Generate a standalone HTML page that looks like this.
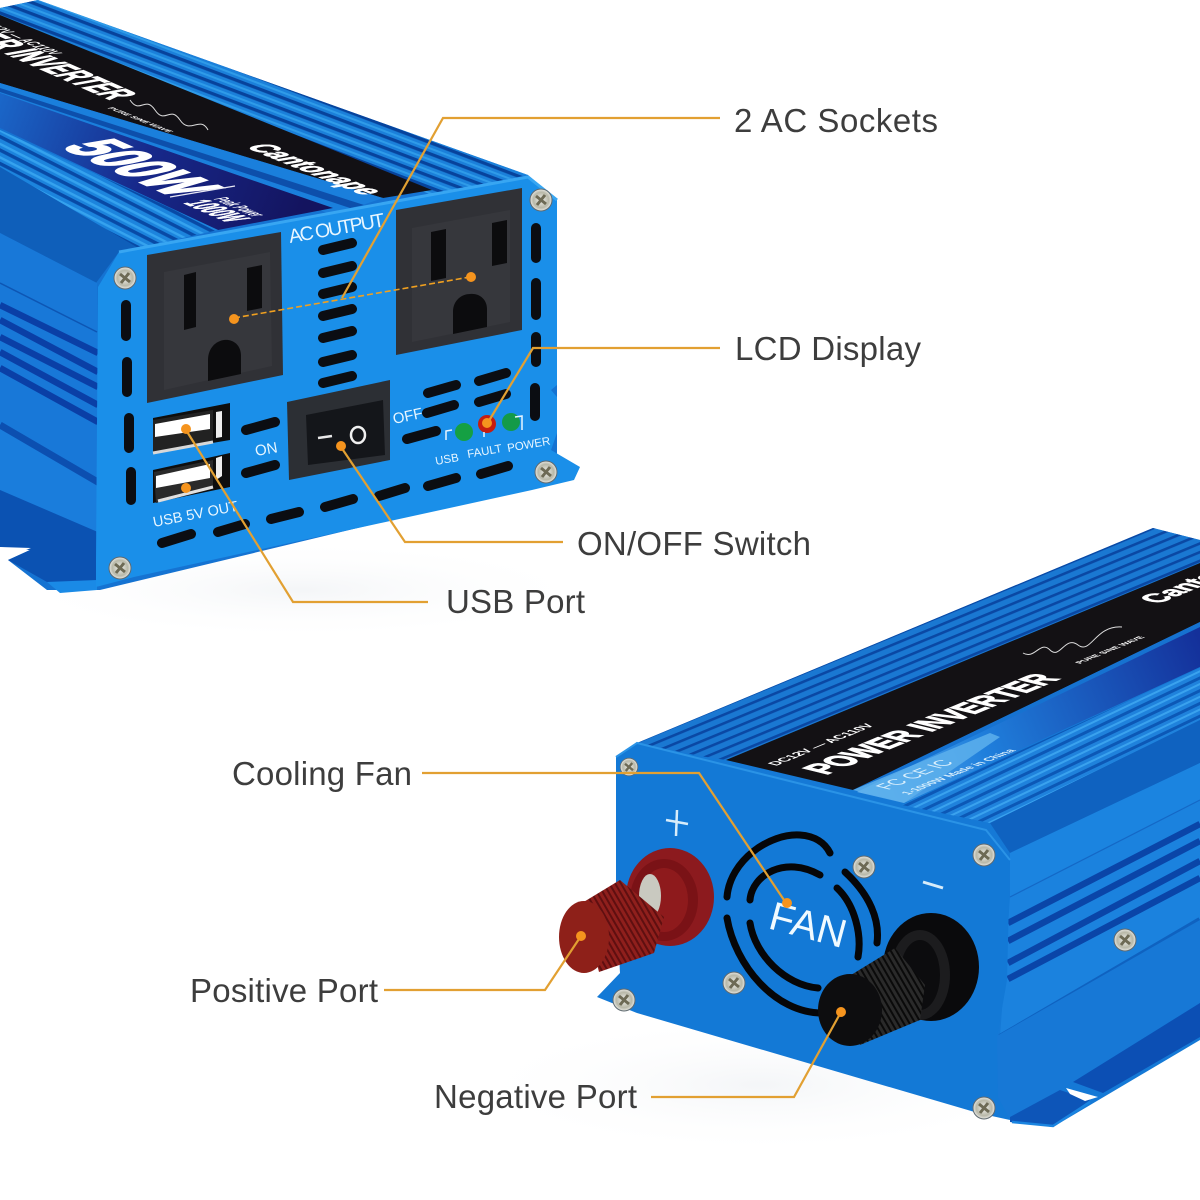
<!DOCTYPE html>
<html><head><meta charset="utf-8"><style>
html,body{margin:0;padding:0;background:#fff}
svg{display:block}
text{font-family:"Liberation Sans",sans-serif}
.lb{font-size:33px;fill:#3d3d3d}
.w{fill:#e8f6ff}
</style></head><body>
<svg xmlns="http://www.w3.org/2000/svg" width="1200" height="1200" viewBox="0 0 1200 1200">
<defs>
<pattern id="f1" patternUnits="userSpaceOnUse" width="20" height="10.5" patternTransform="rotate(20.8)"><rect width="20" height="10.5" fill="#1b80da"/><rect width="20" height="3.2" fill="#07439c"/><rect y="6" width="20" height="2" fill="#2f9be8"/></pattern>
<pattern id="f2" patternUnits="userSpaceOnUse" width="20" height="12" patternTransform="rotate(27)"><rect width="20" height="12" fill="#1c84dd"/><rect width="20" height="3.4" fill="#084aa6"/><rect y="7" width="20" height="2.4" fill="#35a2ee"/></pattern>
<pattern id="f4" patternUnits="userSpaceOnUse" width="20" height="8" patternTransform="rotate(-22.5)"><rect width="20" height="8" fill="#1a78d2"/><rect width="20" height="2.6" fill="#0a48a4"/></pattern>
<pattern id="f5" patternUnits="userSpaceOnUse" width="20" height="11.5" patternTransform="rotate(-25.5)"><rect width="20" height="11.5" fill="#1f82dc"/><rect width="20" height="3" fill="#0c58b6"/><rect y="6" width="20" height="2" fill="#3aa2ee"/></pattern>
<pattern id="k1" patternUnits="userSpaceOnUse" width="5" height="20" patternTransform="rotate(-30)"><rect width="5" height="20" fill="#8f1f1c"/><rect width="2" height="20" fill="#5f0f10"/></pattern>
<pattern id="k2" patternUnits="userSpaceOnUse" width="5" height="20" patternTransform="rotate(-30)"><rect width="5" height="20" fill="#2a2a2a"/><rect width="2" height="20" fill="#0a0a0a"/></pattern>
<linearGradient id="nv" gradientUnits="userSpaceOnUse" x1="0" y1="100" x2="300" y2="215"><stop offset="0" stop-color="#1a66c8"/><stop offset=".5" stop-color="#17288a"/><stop offset="1" stop-color="#14145f"/></linearGradient>
<linearGradient id="nv2" gradientUnits="userSpaceOnUse" x1="860" y1="790" x2="1200" y2="640"><stop offset="0" stop-color="#5fb0ee"/><stop offset=".35" stop-color="#1f7fdc"/><stop offset="1" stop-color="#14309a"/></linearGradient>
<radialGradient id="sc"><stop offset="0" stop-color="#f2f2ee"/><stop offset=".7" stop-color="#b8b8a8"/><stop offset="1" stop-color="#e8e8e4"/></radialGradient>
<g id="s"><circle r="11" fill="url(#sc)" stroke="#5f6a70" stroke-width="1"/><path d="M-5-4L5 4M4-5L-4 5" stroke="#6d6a55" stroke-width="3"/></g>
<radialGradient id="shadow"><stop offset="0" stop-color="#dfe4ea" stop-opacity=".35"/><stop offset="1" stop-color="#fff" stop-opacity="0"/></radialGradient>
</defs>
<rect width="1200" height="1200" fill="#fff"/>
<ellipse cx="760" cy="1085" rx="300" ry="70" fill="url(#shadow)"/>
<ellipse cx="300" cy="590" rx="300" ry="50" fill="url(#shadow)"/>

<!-- TOP LEFT UNIT -->
<polygon points="38,0 528,175 557,200 557,480 100,590 47,590 8,560 30,550 0,547 0,8" fill="#1573d2"/>
<polygon points="38,0 528,175 432,195 0,20 0,8" fill="url(#f1)"/>
<polygon points="0,15 432,190 383,198 0,83" fill="#121014"/>
<polygon points="0,83 383,198 333,215 0,93" fill="#1a7fdc"/>
<polygon points="0,88 364,205 350,208 0,92" fill="#0d4fab"/>
<polygon points="0,93 333,208 218,230 0,128" fill="url(#nv)"/>
<polygon points="0,130 218,230 138,248 0,167" fill="url(#f2)"/>
<polygon points="0,167 138,248 119,252 96,283 0,233" fill="#0f5fba"/>
<polygon points="0,233 97,283 98,440 0,423" fill="#1878d8"/>
<path d="M0,283L97,332" stroke="#0d56b4" stroke-width="1.5"/>
<g stroke="#0a3fa6" stroke-width="6.5">
<path d="M0,305L98,353M0,320L98,372M0,337L98,387M0,352L98,405M0,368L98,422"/>
</g>
<polygon points="0,423 110,487 110,437 98,430" fill="#1878d8"/>
<polygon points="0,423 110,487 100,533 0,490" fill="#1a7ddc"/>
<path d="M0,425L108,488" stroke="#0c4fb0" stroke-width="7"/>
<polygon points="0,490 100,533 103,575 97,587 47,582 8,560 30,550 0,547" fill="#0b52b2"/>
<polygon points="0,547 31,548 10,556 0,556" fill="#fff"/>
<polygon points="47,582 97,580 97,590 60,593" fill="#1a8ae6"/>
<polygon points="98,287 119,252 528,177 557,200 557,385 551,390 557,397 557,433 551,450 580,467 574,480 532,490 134,577 96,587 96,560" fill="#1a8fe9"/>
<path d="M119,252L528,177L557,200" fill="none" stroke="#38a6f2" stroke-width="3"/>

<polygon points="147,255 281,232 283,375 147,403" fill="#303136"/>
<polygon points="164,272 270,252 272,366 164,390" fill="#36373c"/>
<polygon points="396,210 522,188 522,330 396,355" fill="#303136"/>
<polygon points="412,228 510,210 510,322 412,342" fill="#36373c"/>
<g fill="#0c0c0e">
<polygon points="184,275 196,272 196,327 184,330"/>
<polygon points="247,268 262,265 262,308 247,311"/>
<path d="M208,381V360C208,348 216,341 224,340C232,339 241,344 241,356V374Z"/>
<polygon points="431,232 446,229 446,278 431,281"/>
<polygon points="492,223 507,220 507,263 492,266"/>
<path d="M453,334V312C453,300 462,294 470,294C479,293 487,299 487,309V327Z"/>
</g>
<g stroke="#0b0d12" stroke-width="10" stroke-linecap="round" fill="none">
<path d="M323,250L352,243M323,273L352,266M323,294L352,287M323,316L352,309M323,338L352,331M323,362L352,355M323,383L352,376"/>
<path d="M536,228V258M536,283V315M536,337V362M535,388V416"/>
<path d="M126,305V336M127,362V392M129,418V448M131,472V500"/>
<path d="M162,543L191,534M218,532L245,524M271,519L299,512M325,507L353,499M379,496L405,488M428,486L456,478M481,474L508,466"/>
<path d="M246,430L275,422M246,473L275,465"/>
<path d="M428,393L456,385M479,381L506,373M427,413L454,405M479,402L506,394M407,439L436,431"/>
</g>

<polygon points="153,418 230,403 230,440 153,453" fill="#0e0e0e"/>
<polygon points="153,470 230,453 230,487 153,503" fill="#0e0e0e"/>
<polygon points="153,420 213,410 213,442 153,453" fill="#222"/>
<polygon points="155,424 210,414 210,429 155,437" fill="#fff"/>
<path d="M153,453L213,442" stroke="#d8d8d8" stroke-width="3"/>
<polygon points="154,472 213,460 213,488 156,503" fill="#2a2a2a"/>
<polygon points="156,476 210,464 210,478 156,488" fill="#fff"/>
<path d="M158,501L213,487" stroke="#e0e0e0" stroke-width="3"/>
<polygon points="216,412 222,411 222,437 216,438" fill="#eee"/>
<polygon points="216,458 222,456 222,476 216,480" fill="#eee"/>

<polygon points="287,402 390,380 390,460 289,480" fill="#2c2f34"/>
<polygon points="306,415 383,400 385,455 308,465" fill="#14161a"/>
<path d="M318,438L332,436" stroke="#e8e8e8" stroke-width="2.5"/>
<ellipse cx="358" cy="435" rx="7" ry="8" fill="none" stroke="#f0f0f0" stroke-width="2.5"/>

<circle cx="464" cy="432" r="9" fill="#15a043"/>
<circle cx="487" cy="424" r="9" fill="#c61d10"/>
<circle cx="511" cy="422" r="9" fill="#149a48"/>
<path d="M446,440V431L452,430M484,432V437M515,417L522,416V430" stroke="#e8f6ff" stroke-width="1.5" fill="none"/>

<g class="w">
<text transform="translate(290,243) rotate(-10)" font-size="19.5" textLength="97">AC OUTPUT</text>
<text transform="translate(256,456) rotate(-10)" font-size="15">ON</text>
<text transform="translate(394,424) rotate(-12)" font-size="15">OFF</text>
<text transform="translate(154,527) rotate(-11)" font-size="14.5">USB 5V OUT</text>
<text transform="translate(436,465) rotate(-10)" font-size="11.5">USB</text>
<text transform="translate(468,458) rotate(-10)" font-size="11.5">FAULT</text>
<text transform="translate(508,452) rotate(-10)" font-size="11.5">POWER</text>
</g>

<g fill="#fff" font-weight="bold">
<text transform="matrix(.7,.31,-1.18,.22,60,147)" font-size="62" stroke="#fff" stroke-width="2.5">500W</text>
<text transform="matrix(.65,.29,-1.7,.3,213,199)" font-size="11">Peak Power</text>
<text transform="matrix(.7,.31,-1.7,.3,183,203)" font-size="20" stroke="#fff" stroke-width=".6">1000W</text>
<text transform="matrix(.88,.36,-1.3,.22,245,147)" font-size="26" stroke="#fff" stroke-width="1">Cantonape</text>
<text transform="matrix(.7,.31,-1.4,.25,110,100)" font-size="30" text-anchor="end" stroke="#fff" stroke-width="1.2">POWER INVERTER</text>
<text transform="matrix(.9,.36,-1,.17,107,108)" font-size="8">PURE SINE WAVE</text>
<text transform="matrix(.7,.31,-1.2,.21,52,55)" font-size="13" text-anchor="end">DC12V — AC110V</text>
</g>
<path d="M130,100C140,115 145,95 155,110S170,105 180,120S200,115 208,130" fill="none" stroke="#ddd" stroke-width="1"/>
<path d="M170,197L235,186" stroke="#e8e8f4" stroke-width="1.2"/>

<use href="#s" x="125" y="278"/><use href="#s" x="541" y="200"/><use href="#s" x="546" y="472"/><use href="#s" x="120" y="568"/>

<!-- BOTTOM RIGHT UNIT -->
<polygon points="637,743 1153,528 1200,540 1200,1040 1053,1127 1010,1120 980,1000 616,800" fill="#1579d6"/>
<polygon points="637,743 1153,528 1200,540 1200,563 726,760 700,756" fill="url(#f4)"/>
<polygon points="726,760 1200,563 1200,622 853,790" fill="#131114"/>
<polygon points="853,790 1200,622 1200,633 870,795" fill="#1672d0"/>
<polygon points="857,792 1200,627 1200,667 904,803" fill="url(#nv2)"/>
<polygon points="902,805 1200,668 1200,720 990,823" fill="url(#f5)"/>
<polygon points="853,790 990,733 1000,737 904,803" fill="#5db0ec" opacity=".85"/>
<polygon points="990,823 1200,720 1200,763 1010,853" fill="#0f62c0"/>
<polygon points="1010,853 1200,763 1200,800 1010,897" fill="#1b84e0"/>
<polygon points="1010,897 1200,800 1200,920 1000,1037" fill="#1b82de"/>
<path d="M1010,897L1200,800" stroke="#1468c6" stroke-width="1.2"/>
<g stroke="#0a45a8" stroke-width="6.5">
<path d="M1008,923L1200,824M1008,941L1200,841M1008,963L1200,861M1008,979L1200,878"/>
</g>
<path d="M1000,1037L1200,920" stroke="#0f62c0" stroke-width="6"/>
<polygon points="995,1037 1200,920 1200,1003 1060,1090 1010,1120 995,1100" fill="#1778d6"/>
<polygon points="1073,1082 1200,1003 1200,1037 1103,1093" fill="#0c4fb4"/>
<polygon points="1010,1117 1060,1090 1090,1100 1053,1127 1010,1122" fill="#0d55b8"/>
<polygon points="1066,1088 1098,1097 1085,1101 1070,1094" fill="#fff"/>
<path d="M1012,1122L1053,1126L1090,1102" stroke="#1a84e0" stroke-width="2.5" fill="none"/>
<polygon points="616,757 637,743 986,830 1010,860 1007,980 997,1037 998,1097 1010,1120 978,1113 637,1013 597,997 620,973 616,900" fill="#1379d6"/>
<path d="M616,757L637,743L986,830L1010,860" fill="none" stroke="#2a93e6" stroke-width="2"/>

<g fill="none" stroke="#060608" stroke-width="7" stroke-linecap="round">
<path d="M727,897C730,860 770,833 800,835C815,836 825,843 830,853"/>
<path d="M845,872C870,895 880,920 877,943"/>
<path d="M727,918C735,965 775,1013 822,1013"/>
<path d="M750,900C752,875 785,855 820,875"/>
<path d="M837,888C855,905 862,935 858,957"/>
<path d="M750,923C755,955 785,985 818,988"/>
</g>
<text transform="translate(767,928) rotate(15)" font-size="40" fill="#f0faff">FAN</text>
<path d="M666,820L688,824M677,810L676,836" stroke="#d7ecfa" stroke-width="2.5" fill="none"/>
<path d="M923,882L943,888" stroke="#d7ecfa" stroke-width="3"/>

<ellipse cx="670" cy="897" rx="44" ry="49" fill="#8c1a1e"/>
<ellipse cx="664" cy="900" rx="34" ry="41" fill="#7a1216"/>
<ellipse cx="664" cy="900" rx="24" ry="32" fill="#8e1a1c"/>
<ellipse cx="650" cy="896" rx="11" ry="22" fill="#c9c9c0"/>
<polygon points="582,903 620,880 664,917 654,953 599,972" fill="url(#k1)"/>
<ellipse cx="584" cy="937" rx="25" ry="36" fill="#8e2019"/>

<ellipse cx="931" cy="967" rx="48" ry="54" fill="#0a0a0c"/>
<ellipse cx="920" cy="975" rx="30" ry="45" fill="#1c1c1e"/>
<ellipse cx="920" cy="975" rx="20" ry="35" fill="#0c0c0e"/>
<polygon points="851,975 895,948 925,985 920,1020 860,1045" fill="url(#k2)"/>
<ellipse cx="850" cy="1010" rx="32" ry="36" fill="#0d0d0f"/>

<use href="#s" transform="translate(629,767) scale(.8)"/>
<use href="#s" x="984" y="855"/><use href="#s" x="864" y="867"/><use href="#s" x="734" y="983"/><use href="#s" x="624" y="1000"/><use href="#s" x="984" y="1108"/><use href="#s" x="1125" y="940"/>

<g fill="#fff" font-weight="bold">
<text transform="matrix(.78,-.32,1.1,.27,826,775)" font-size="33" stroke="#fff" stroke-width="1.4">POWER INVERTER</text>
<text transform="matrix(.78,-.32,.88,.22,776,766)" font-size="15">DC12V — AC110V</text>
<text transform="matrix(.78,-.32,1,.25,1158,604)" font-size="30" stroke="#fff" stroke-width="1">Cantonape</text>
<text transform="matrix(.85,-.35,.9,.22,1080,664)" font-size="9">PURE SINE WAVE</text>
</g>
<path d="M1023,653C1035,660 1040,640 1050,650S1065,635 1078,645S1095,625 1122,627" fill="none" stroke="#ddd" stroke-width="1"/>
<g fill="#d7eefc">
<text transform="matrix(.78,-.32,1,.25,888,790)" font-size="20">FC CE IC</text>
<text transform="matrix(.78,-.32,.9,.22,908,795)" font-size="12.5" font-weight="bold">1-1000W Made in China</text>
</g>

<!-- CALLOUTS -->
<g fill="none" stroke="#e2a032" stroke-width="2.2">
<path d="M720,118H443L342,298"/>
<path d="M234,318L470,277" stroke="#f0a020" stroke-dasharray="6 3" stroke-width="1.6"/>
<path d="M720,348H533L487,424"/>
<path d="M563,542H405L341,447"/>
<path d="M428,602H293L186,430"/>
<path d="M422,773H699L786,903"/>
<path d="M384,990H545L581,936"/>
<path d="M651,1097H794L841,1012"/>
</g>
<g fill="#f5941e">
<circle cx="234" cy="319" r="5"/><circle cx="471" cy="277" r="5"/><circle cx="487" cy="423" r="5"/><circle cx="341" cy="446" r="5"/><circle cx="186" cy="429" r="5"/><circle cx="186" cy="488" r="5"/><circle cx="787" cy="903" r="5"/><circle cx="581" cy="936" r="5"/><circle cx="841" cy="1012" r="5"/>
</g>

<text class="lb" x="734" y="132" textLength="204">2 AC Sockets</text>
<text class="lb" x="735" y="360" textLength="186">LCD Display</text>
<text class="lb" x="577" y="555" textLength="234">ON/OFF Switch</text>
<text class="lb" x="446" y="613" textLength="139">USB Port</text>
<text class="lb" x="232" y="785" textLength="180">Cooling Fan</text>
<text class="lb" x="190" y="1002" textLength="188">Positive Port</text>
<text class="lb" x="434" y="1108" textLength="203">Negative Port</text>
</svg>
</body></html>
